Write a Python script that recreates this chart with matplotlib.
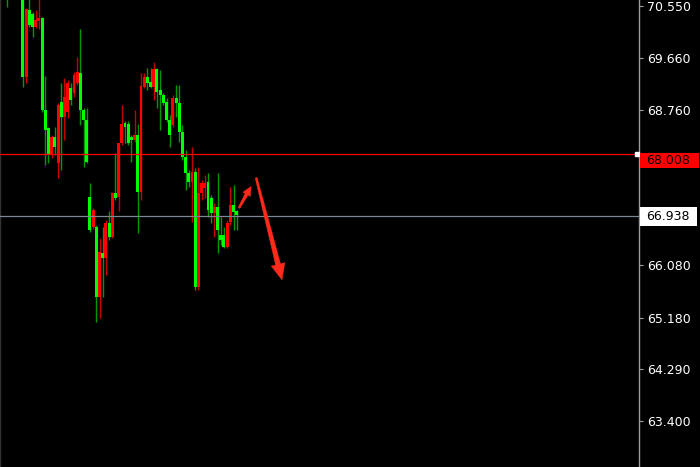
import numpy as np
import matplotlib
matplotlib.use("Agg")
import matplotlib.pyplot as plt
from matplotlib.patches import Rectangle, Polygon

nan = np.nan

# ---- data ----
opens = [70.95, nan, nan, nan, nan,
         70.76, 69.33, 70.48, 70.41, 70.19, 70.29, 70.34, 68.76, 68.45, 67.98,
         68.29, 67.85, 68.90, 68.64, 68.72, 69.14, 69.05, 69.22, 69.40, 68.76,
         68.59, 67.26, 66.74, 66.74, 65.54, 66.29, 66.21, 66.81, 66.57, 67.33,
         67.26,
         68.19, 68.53, 68.52, 68.29, 68.24, 68.33, 67.35, 69.15, 69.33, 69.24,
         69.15, 69.46, 69.10, 69.02, 68.90, 68.59, 68.50, 68.97, 68.88, 68.38,
         67.95, 67.67, 67.52, 67.69, 65.71, 67.33, 67.41, 67.52, 67.24, 66.98,
         67.09, 66.60, 66.60, 66.40, 66.83, 67.12, 67.02]
highs = [71.00, nan, nan, nan, nan,
         70.91, 70.52, 70.74, 70.45, 70.48, 70.74, 70.36, 69.34, 68.47, 68.33,
         68.47, 68.88, 69.22, 69.31, 69.28, 69.22, 69.41, 69.67, 70.15, 68.79,
         68.79, 67.50, 67.07, 66.78, 66.55, 66.74, 66.86, 67.02, 67.35, 68.02,
         68.19,
         68.84, 68.57, 68.57, 68.33, 68.76, 68.52, 69.40, 69.40, 69.48, 69.48,
         69.59, 69.48, 69.45, 69.05, 68.97, 68.67, 69.02, 69.19, 69.19, 68.50,
         68.07, 67.72, 68.12, 67.76, 67.78, 67.55, 67.64, 67.67, 67.29, 67.16,
         67.67, 66.91, 66.74, 66.86, 67.43, 67.47, 67.04]
lows = [70.53, nan, nan, nan, nan,
        69.15, 69.22, 70.19, 70.02, 70.17, 70.15, 68.72, 67.81, 67.85, 67.93,
        67.98, 67.59, 67.72, 68.24, 68.62, 68.84, 68.98, 69.19, 68.50, 67.78,
        67.85, 66.66, 66.71, 65.11, 65.17, 65.54, 65.92, 66.52, 66.55, 67.21,
        67.02,
        68.16, 68.19, 68.16, 67.86, 68.21, 66.64, 67.21, 69.14, 69.10, 69.14,
        68.93, 68.79, 68.41, 68.84, 68.55, 68.12, 68.47, 68.64, 68.21, 67.90,
        67.38, 67.43, 66.83, 65.66, 65.66, 67.21, 67.24, 66.91, 66.81, 66.57,
        66.29, 66.43, 66.38, 66.38, 66.78, 66.69, 66.69]
closes = [70.75, nan, nan, nan, nan,
          69.33, 70.50, 70.22, 70.19, 70.31, 70.34, 68.76, 68.41, 67.98, 68.29,
          68.12, 68.84, 68.64, 68.98, 69.22, 68.93, 69.36, 69.41, 68.76, 68.59,
          67.86, 66.69, 67.04, 65.54, 66.31, 66.21, 66.81, 66.57, 67.33, 67.24,
          68.19,
          68.52, 68.47, 68.19, 68.24, 68.33, 67.35, 69.17, 69.33, 69.22, 69.15,
          69.46, 69.07, 69.02, 68.88, 68.59, 68.33, 68.97, 68.88, 68.38, 67.95,
          67.67, 67.52, 67.69, 65.71, 67.33, 67.50, 67.50, 67.04, 66.98, 67.09,
          66.69, 66.52, 66.40, 66.81, 67.12, 67.00, 66.95]

tick_values = [70.550, 69.660, 68.760, 67.870, 66.970, 66.080, 65.180, 64.290, 63.400]
hidden_ticks = [67.870, 66.970]   # covered by the price boxes in the reference
red_level = 68.008
grey_level = 66.938
red_label = "68.008"
grey_label = "66.938"

# arrows: (tail_index, tail_price, head_index, head_price)
small_arrow = (72.7, 67.07, 76.5, 67.44)
big_arrow = (78.1, 67.59, 86.2, 65.83)

# ---- styling ----
UP_BODY, UP_WICK = "#ff0000", "#c80000"
DN_BODY, DN_WICK = "#00ff00", "#009a00"

W, H = 700, 467
fig = plt.figure(figsize=(W / 100, H / 100), dpi=100, facecolor="black")
ax = fig.add_axes([0, 0, 639 / W, 1])
ax.set_facecolor("black")

o = np.array(opens); h = np.array(highs); l = np.array(lows); c = np.array(closes)
x = np.arange(len(o))
valid = ~np.isnan(o)
up = (c >= o) & valid
dn = (c < o) & valid

ax.vlines(x[up], l[up], h[up], color=UP_WICK, linewidth=1.0, zorder=2)
ax.vlines(x[dn], l[dn], h[dn], color=DN_WICK, linewidth=1.0, zorder=2)
body_lo = np.minimum(o, c)
body_h = np.maximum(np.abs(c - o), 0.025)
ax.bar(x[up], body_h[up], bottom=body_lo[up], width=0.92, color=UP_BODY,
       linewidth=0, zorder=3)
ax.bar(x[dn], body_h[dn], bottom=body_lo[dn], width=0.92, color=DN_BODY,
       linewidth=0, zorder=3)

ax.axhline(red_level, color="#ff0000", linewidth=0.9, zorder=4)
ax.axhline(grey_level, color="#7a8796", linewidth=0.9, zorder=4)
ax.plot([0.9965], [red_level], marker="s", markersize=2.6, mfc="white", mec="white",
        transform=ax.get_yaxis_transform(), zorder=5, clip_on=False)

ax.set_xlim(-2.19, 198.1)
ax.set_ylim(62.607, 70.653)

ax.yaxis.tick_right()
ax.set_yticks(tick_values)
ax.set_yticklabels(["" if v in hidden_ticks else f"{v:.3f}" for v in tick_values])
ax.tick_params(axis="y", colors="#a0a0a0", length=3, width=0.8, pad=3,
               labelsize=9, labelcolor="white")
ax.set_xticks([])
for s in ["top", "bottom"]:
    ax.spines[s].set_visible(False)
ax.spines["right"].set_color("#9a9a9a")
ax.spines["right"].set_linewidth(1.0)
ax.spines["left"].set_color("#333333")
ax.spines["left"].set_linewidth(1.0)


def tapered_arrow(spec, w_tail, w_neck, head_w, head_len, color):
    tx, ty, hx, hy = spec
    p0 = ax.transData.transform((tx, ty))
    p1 = ax.transData.transform((hx, hy))
    d = p1 - p0
    u = d / np.hypot(*d)
    n = np.array([-u[1], u[0]])
    neck = p1 - u * head_len
    pts = [p0 + n * w_tail / 2, neck + n * w_neck / 2, neck + n * head_w / 2, p1,
           neck - n * head_w / 2, neck - n * w_neck / 2, p0 - n * w_tail / 2]
    pts = ax.transAxes.inverted().transform(np.array(pts))
    ax.add_patch(Polygon(pts, closed=True, transform=ax.transAxes, facecolor=color,
                         edgecolor=color, linewidth=0.3, zorder=6))


tapered_arrow(small_arrow, 2.0, 3.2, 8.5, 9.0, "#ff2a1a")
tapered_arrow(big_arrow, 2.0, 5.0, 14.0, 16.0, "#ff2a1a")

# price labels on the axis
def px_rect(x0, y0, x1, y1, color):
    fig.patches.append(Rectangle((x0 / W, 1 - y1 / H), (x1 - x0) / W, (y1 - y0) / H,
                                 transform=fig.transFigure, facecolor=color,
                                 edgecolor="none", zorder=5))

px_rect(640, 152.5, 699, 167.5, "#ff0000")
fig.text(646 / W, 1 - 160.5 / H, red_label, color="black", fontsize=9,
         ha="left", va="center", zorder=6)
px_rect(640, 207, 697, 226, "white")
fig.text(646 / W, 1 - 216.8 / H, grey_label, color="black", fontsize=9,
         ha="left", va="center", zorder=6)

fig.savefig("out.png", dpi=100, facecolor="black")
